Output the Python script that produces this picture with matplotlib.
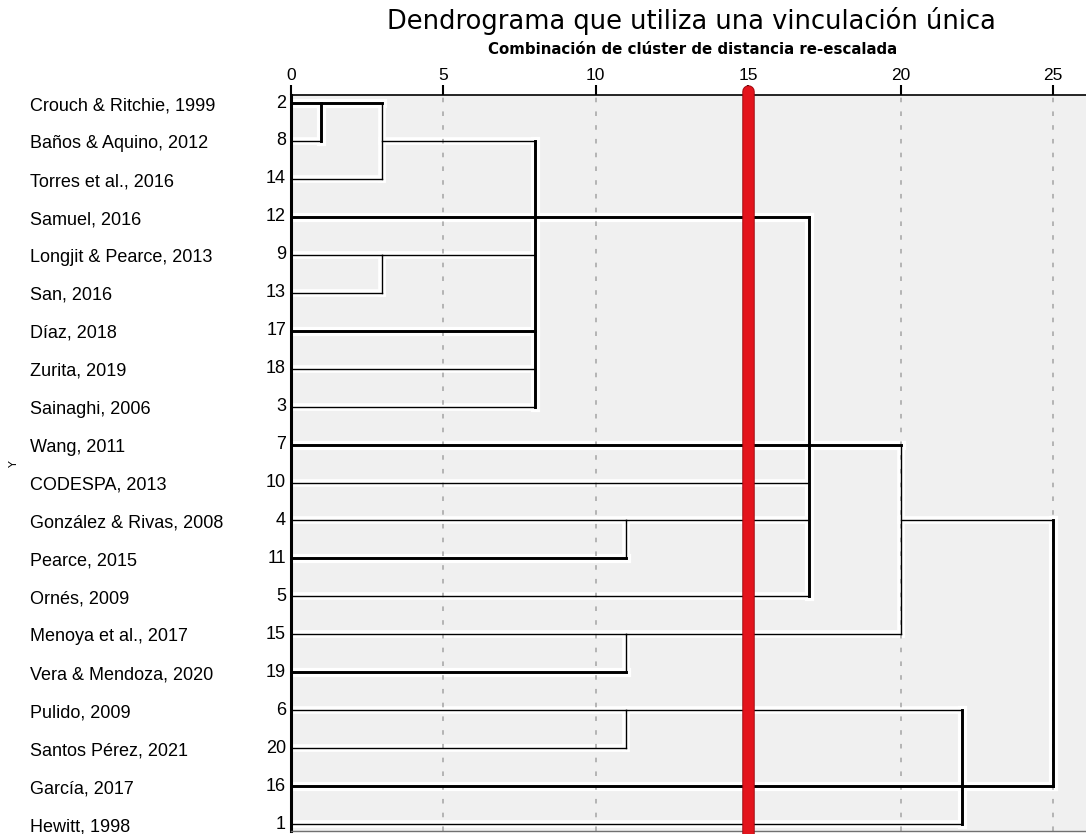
import numpy as np
import matplotlib.pyplot as plt
import matplotlib.patheffects as pe
from matplotlib.transforms import blended_transform_factory

# filas del dendrograma, de arriba abajo
row_labels = ["Crouch & Ritchie, 1999", "Baños & Aquino, 2012", "Torres et al., 2016",
              "Samuel, 2016", "Longjit & Pearce, 2013", "San, 2016", "Díaz, 2018",
              "Zurita, 2019", "Sainaghi, 2006", "Wang, 2011", "CODESPA, 2013",
              "González & Rivas, 2008", "Pearce, 2015", "Ornés, 2009",
              "Menoya et al., 2017", "Vera & Mendoza, 2020", "Pulido, 2009",
              "Santos Pérez, 2021", "García, 2017", "Hewitt, 1998"]
case_ids = [2, 8, 14, 12, 9, 13, 17, 18, 3, 7, 10, 4, 11, 5, 15, 19, 6, 20, 16, 1]

# uniones: distancia re-escalada, hijos (("L", fila) hoja / ("M", union)), fila de salida
merge_height = [1, 3, 3, 8, 11, 17, 11, 20, 11, 22, 25]
merge_children = [
    [("L", 0), ("L", 1)],
    [("M", 0), ("L", 2)],
    [("L", 4), ("L", 5)],
    [("M", 1), ("L", 3), ("M", 2), ("L", 6), ("L", 7), ("L", 8)],
    [("L", 11), ("L", 12)],
    [("M", 3), ("L", 9), ("L", 10), ("M", 4), ("L", 13)],
    [("L", 14), ("L", 15)],
    [("M", 5), ("M", 6)],
    [("L", 16), ("L", 17)],
    [("M", 8), ("L", 18), ("L", 19)],
    [("M", 7), ("M", 9)],
]
merge_out_row = [0, 1, 4, 3, 11, 9, 14, 11, 16, 18, None]

xticks = [0, 5, 10, 15, 20, 25]
cut_height = 15

W, H = 1086, 834
fig = plt.figure(figsize=(W / 100, H / 100), dpi=100)
x0px, ytop, ybot = 290.7, 95, 831
row0, drow, ppu = 103, 37.95, 30.5
ax = fig.add_axes([x0px / W, 1 - ybot / H, 1 - x0px / W, (ybot - ytop) / H])
ax.set_xlim(0, (W - x0px) / ppu)
ax.set_ylim((ybot - row0) / drow, (ytop - row0) / drow)
ax.set_facecolor("#f0f0f0")

THICK, THIN = 2.1, 1.0
thick_v = {1, 8, 17, 22, 25}

segs = []  # (x1, x2, y1, y2, lw)
for h, kids in zip(merge_height, merge_children):
    rows = []
    for kind, k in kids:
        if kind == "L":
            start, r = 0, k
        else:
            start, r = merge_height[k], merge_out_row[k]
        rows.append(r)
        segs.append((start, h, r, r, THICK if r % 3 == 0 else THIN))
    segs.append((h, h, min(rows), max(rows), THICK if h in thick_v else THIN))

for x1, x2, y1, y2, lw in segs:
    ax.plot([x1, x2], [y1, y2], color="white", lw=lw + 4.5, solid_capstyle="projecting", zorder=1)
for t in xticks:
    ax.axvline(t, color="#a4a4a4", lw=1.1, dashes=(3, 6), zorder=2)
for x1, x2, y1, y2, lw in segs:
    ax.plot([x1, x2], [y1, y2], color="black", lw=lw, solid_capstyle="projecting", zorder=3)

ax.plot([cut_height, cut_height], [(834 - row0) / drow, (91 - row0) / drow], color="#e3141c",
        lw=7.6, solid_capstyle="round", clip_on=False, zorder=5,
        path_effects=[pe.Stroke(linewidth=9, foreground="#a00a10"), pe.Normal()])

ax.xaxis.tick_top()
ax.set_xticks(xticks)
ax.set_xticklabels([str(t) for t in xticks], family="Liberation Sans")
ax.tick_params(axis="x", direction="out", length=7, width=1.5, labelsize=12.5, pad=2)
ax.set_yticks([])
ax.spines["right"].set_visible(False)
ax.spines["top"].set_linewidth(1.2)
ax.spines["left"].set_linewidth(2.2)
ax.spines["bottom"].set_color("#707070")
ax.spines["bottom"].set_linewidth(1.0)

trans = blended_transform_factory(fig.transFigure, ax.transData)
for i, (lab, cid) in enumerate(zip(row_labels, case_ids)):
    ax.text(29.5 / W, i + 0.07, lab, transform=trans, ha="left", va="center",
            fontsize=13, family="Liberation Sans")
    ax.text(286 / W, i, str(cid), transform=trans, ha="right", va="center",
            fontsize=13, family="Liberation Sans")

fig.text(0.6363, 1 - 21 / H, "Dendrograma que utiliza una vinculación única",
         ha="center", va="center", fontsize=18.5, family="DejaVu Sans")
fig.text(0.638, 1 - 50 / H, "Combinación de clúster de distancia re-escalada",
         ha="center", va="center", fontsize=10.8, fontweight="bold", family="DejaVu Sans")
fig.text(14 / W, 1 - 464 / H, "Y", rotation=90, ha="center", va="center", fontsize=8)

fig.savefig("out.png", dpi=100)
